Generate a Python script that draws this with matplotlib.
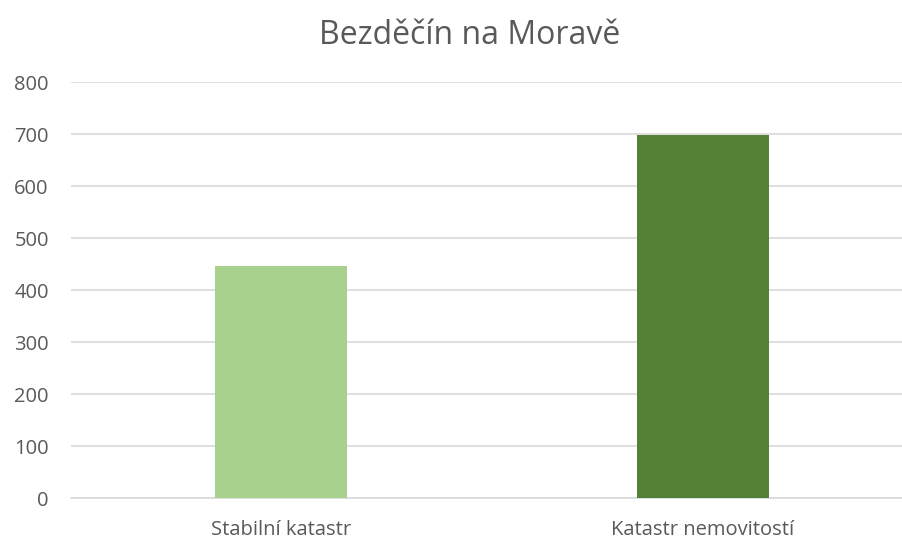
import matplotlib
matplotlib.use("Agg")
import matplotlib.pyplot as plt

categories = ["Stabilní katastr", "Katastr nemovitostí"]
values = [447, 698]
colors = ["#a9d18e", "#538135"]
yticks = [0, 100, 200, 300, 400, 500, 600, 700, 800]

plt.rcParams['font.family'] = ['Open Sans', 'DejaVu Sans']
text_color = "#595959"

fig = plt.figure(figsize=(9.03, 5.39), dpi=100)
ax = fig.add_axes([71 / 903, 1 - 498 / 539, 832 / 903, (498 - 82) / 539])

x = list(range(len(categories)))
ax.bar(x, values, width=0.315, color=colors, zorder=3)

ax.set_xlim(-0.4976, 1 + 200 / 422)
ax.set_ylim(0, 800)
ax.set_yticks(yticks)
ax.set_xticks(x)
ax.set_xticklabels(categories)
ax.grid(axis='y', color="#d9d9d9", linewidth=1.2, zorder=0)
for s in ["top", "right", "left"]:
    ax.spines[s].set_visible(False)
ax.spines["bottom"].set_color("#d9d9d9")
ax.spines["bottom"].set_linewidth(1.2)
ax.tick_params(axis='both', length=0, colors=text_color, labelsize=14.5)
ax.tick_params(axis='y', pad=16)
ax.tick_params(axis='x', pad=16)

# title is centred on the full (uncropped) chart, slightly right of this image's middle
fig.text(470 / 903, 1 - 35 / 539, "Bezděčín na Moravě", ha='center', va='center',
         fontsize=23, color=text_color)

fig.savefig("out.png", dpi=100)
